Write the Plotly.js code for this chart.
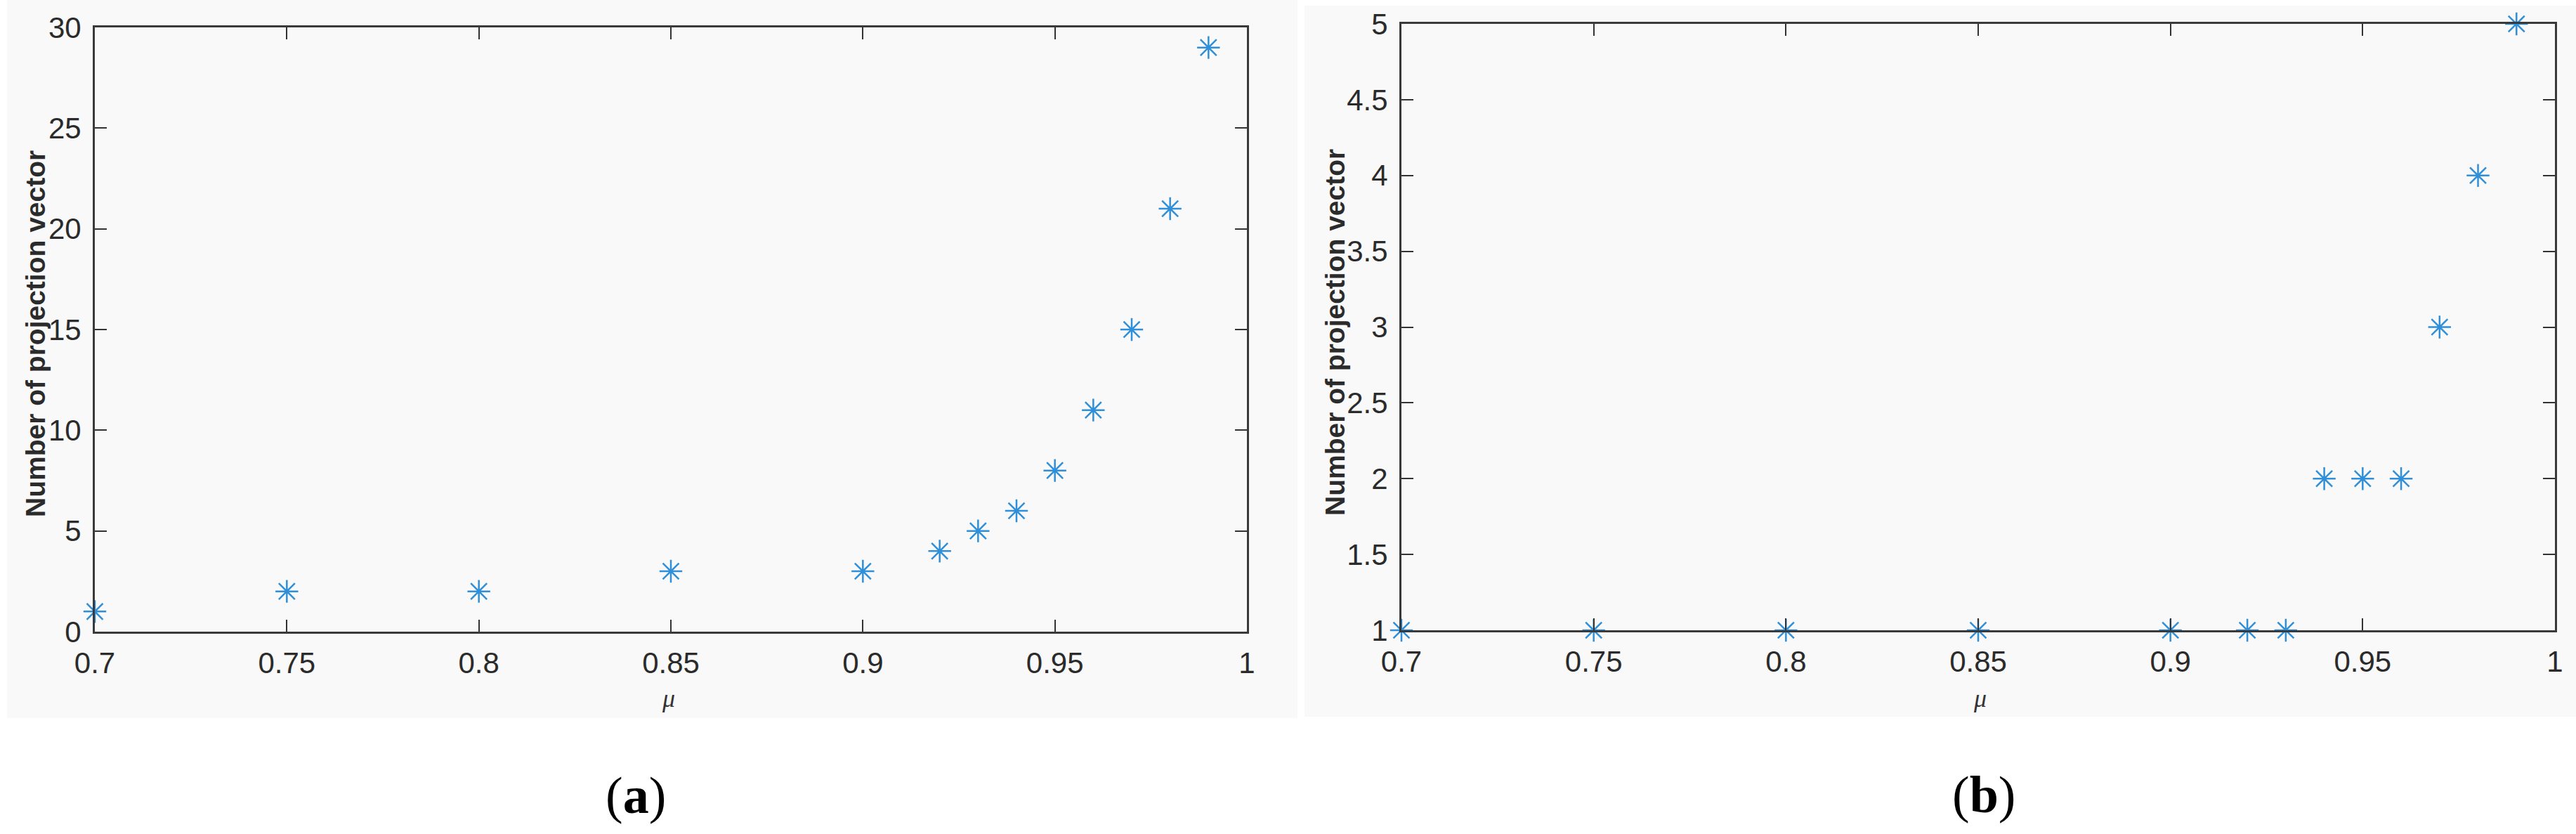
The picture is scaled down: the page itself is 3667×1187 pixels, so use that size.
<!DOCTYPE html>
<html>
<head>
<meta charset="utf-8">
<script src="https://cdn.plot.ly/plotly-3.0.1.min.js"></script>
<style>
  html, body { margin: 0; padding: 0; background: #ffffff; }
  #chart1 { width: 3667px; height: 1187px; }
</style>
</head>
<body>
<div id="chart1"></div>
<script>
// mu values (same for both panels)
var mu_vals = [0.7, 0.75, 0.8, 0.85, 0.9, 0.92, 0.93, 0.94, 0.95, 0.96, 0.97, 0.98, 0.99]
// number of projection vectors, panel (a) and (b)
var count_a = [1, 2, 2, 3, 3, 4, 5, 6, 8, 11, 15, 21, 29]
var count_b = [1, 1, 1, 1, 1, 1, 1, 2, 2, 2, 3, 4, 5]

var x_ticks = [0.7, 0.75, 0.8, 0.85, 0.9, 0.95, 1]
var y_ticks_a = [0, 5, 10, 15, 20, 25, 30]
var y_ticks_b = [1, 1.5, 2, 2.5, 3, 3.5, 4, 4.5, 5]

var W = 3667, H = 1187
function px(x){ return x / W }
function py(y){ return (H - y) / H }

var tickFont = {family: 'Liberation Sans, Arial, sans-serif', size: 42, color: '#2b2b2b'}
var markerStyle = {symbol: 'asterisk-open', size: 27, color: '#2f8fd8', line: {color: '#2f8fd8', width: 2.5}}

function makeX(dom){
    return {
        domain: dom, range: [0.7, 1], tickvals: x_ticks,
        ticks: 'inside', ticklen: 17, tickwidth: 2, tickcolor: '#333',
        showline: true, linecolor: '#3a3a3a', linewidth: 3, mirror: 'ticks',
        showgrid: false, zeroline: false, tickfont: tickFont,
        ticklabelstandoff: 6, fixedrange: true
    }
}
function makeY(dom, rng, tv, anchor){
    return {
        domain: dom, range: rng, tickvals: tv, anchor: anchor,
        ticks: 'inside', ticklen: 17, tickwidth: 2, tickcolor: '#333',
        showline: true, linecolor: '#3a3a3a', linewidth: 3, mirror: 'ticks',
        showgrid: false, zeroline: false, tickfont: tickFont,
        ticklabelstandoff: 8, fixedrange: true
    }
}

window.onload = function(){

    var traces = [
        {x: mu_vals, y: count_a, type: 'scatter', mode: 'markers', marker: markerStyle,
         xaxis: 'x', yaxis: 'y', cliponaxis: false, showlegend: false},
        {x: mu_vals, y: count_b, type: 'scatter', mode: 'markers', marker: markerStyle,
         xaxis: 'x2', yaxis: 'y2', cliponaxis: false, showlegend: false}
    ]

    var titleFont = {family: 'Liberation Sans, Arial, sans-serif', size: 39, color: '#2b2b2b'}
    var muFont = {family: 'Liberation Serif, serif', size: 36, color: '#333'}
    var capFont = {family: 'Liberation Serif, serif', size: 74, color: '#000'}

    var layout = {
        width: W, height: H,
        margin: {l: 0, r: 0, t: 0, b: 0},
        paper_bgcolor: '#ffffff',
        plot_bgcolor: 'rgba(0,0,0,0)',
        showlegend: false,
        xaxis: makeX([px(135), px(1775)]),
        yaxis: makeY([py(899), py(39)], [0, 30], y_ticks_a, 'x'),
        xaxis2: Object.assign(makeX([px(1995), px(3637)]), {anchor: 'y2'}),
        yaxis2: makeY([py(897), py(34)], [1, 5], y_ticks_b, 'x2'),
        shapes: [
            {type: 'rect', xref: 'paper', yref: 'paper', layer: 'below', line: {width: 0},
             fillcolor: '#f9f9f9', x0: px(10), x1: px(1847), y0: py(1022), y1: py(0)},
            {type: 'rect', xref: 'paper', yref: 'paper', layer: 'below', line: {width: 0},
             fillcolor: '#f9f9f9', x0: px(1857), x1: px(3667), y0: py(1020), y1: py(8)}
        ],
        annotations: [
            {text: '<b>Number of projection vector</b>', textangle: -90, font: titleFont,
             xref: 'paper', yref: 'paper', x: px(50), y: py(475), showarrow: false,
             xanchor: 'center', yanchor: 'middle'},
            {text: '<b>Number of projection vector</b>', textangle: -90, font: titleFont,
             xref: 'paper', yref: 'paper', x: px(1900), y: py(473), showarrow: false,
             xanchor: 'center', yanchor: 'middle'},
            {text: '<i>μ</i>', font: muFont, xref: 'paper', yref: 'paper',
             x: px(952), y: py(994), showarrow: false, xanchor: 'center', yanchor: 'middle'},
            {text: '<i>μ</i>', font: muFont, xref: 'paper', yref: 'paper',
             x: px(2818), y: py(994), showarrow: false, xanchor: 'center', yanchor: 'middle'},
            {text: '(<b>a</b>)', font: capFont, xref: 'paper', yref: 'paper',
             x: px(905), y: py(1132), showarrow: false, xanchor: 'center', yanchor: 'middle'},
            {text: '(<b>b</b>)', font: capFont, xref: 'paper', yref: 'paper',
             x: px(2824), y: py(1131), showarrow: false, xanchor: 'center', yanchor: 'middle'}
        ]
    }

    Plotly.newPlot('chart1', traces, layout, {staticPlot: true})
}
</script>
</body>
</html>
